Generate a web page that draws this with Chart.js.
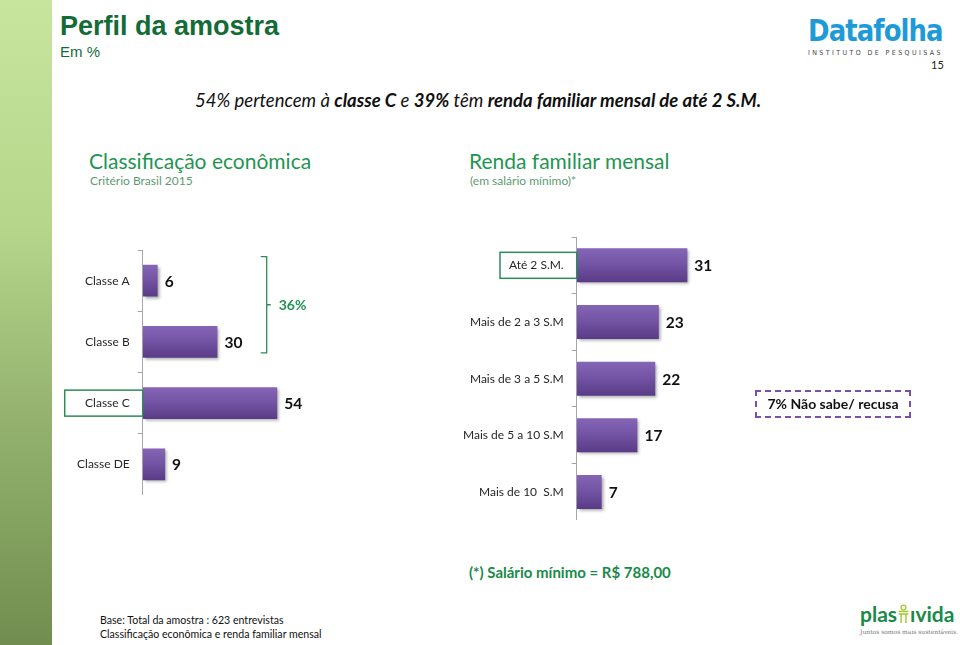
<!DOCTYPE html>
<html>
<head>
<meta charset="utf-8">
<script src="https://cdn.jsdelivr.net/npm/chart.js@4.4.1/dist/chart.umd.min.js"></script>
<style>
body { margin: 0; width: 960px; height: 645px; position: relative; overflow: hidden; background: #fff; font-family: Lato, sans-serif; }
.abs { position: absolute; white-space: nowrap; line-height: 1; }
#strip { left: 0; top: 0; width: 52px; height: 645px; background: linear-gradient(#c8e59e, #b5d68b 35%, #94b26e 65%, #718e50); }
#title { left: 60px; top: 11px; font: bold 27px "Liberation Sans", Arial, sans-serif; color: #136b36; }
#emp { left: 60px; top: 43px; font: 15px "Liberation Sans", Arial, sans-serif; color: #136b36; }
#logo { left: 808px; top: 12px; color: #1e9bd7; }
#logo .big { font: bold 31px "DejaVu Sans Condensed", "DejaVu Sans", sans-serif; letter-spacing: -1px; display: inline-block; transform-origin: left top; }
#logo .small { font: 7px "DejaVu Sans Condensed", sans-serif; letter-spacing: 2.4px; color: #444; margin-top: 1px; }
#page { left: 931px; top: 59px; font-size: 11px; color: #222; }
#sub { left: 195px; top: 91px; font-size: 18.5px; font-style: italic; color: #111; }
.head { font-size: 21px; color: #1f9650; }
.head2 { font-size: 12px; color: #5f9a72; }
#foot { left: 469px; top: 565px; font-size: 15px; font-weight: bold; color: #1a8a48; }
#base { left: 100px; top: 613px; font-size: 10.6px; color: #111; line-height: 14px; }
#plas { left: 860px; top: 601px; color: #1a8a48; font: bold 21px Lato, sans-serif; }
#plas .tag { font: 6px "DejaVu Serif", serif; color: #777; margin-top: 2px; }
#econWrap { left: 40px; top: 250px; width: 340px; height: 245px; }
#rendaWrap { left: 440px; top: 236.7px; width: 320px; height: 283.3px; }
</style>
</head>
<body>
<div id="strip" class="abs"></div>
<div id="title" class="abs">Perfil da amostra</div>
<div id="emp" class="abs">Em %</div>
<div id="logo" class="abs"><span class="big" id="logoBig">Datafolha</span><div class="small">INSTITUTO DE PESQUISAS</div></div>
<div id="page" class="abs">15</div>
<div id="sub" class="abs">54% pertencem à <b>classe C</b> e <b>39%</b> têm <b>renda familiar mensal de até 2 S.M.</b></div>

<div class="abs head" style="left:89px;top:150px">Classificação econômica</div>
<div class="abs head2" style="left:90px;top:175px">Critério Brasil 2015</div>
<div class="abs head" style="left:469px;top:150px">Renda familiar mensal</div>
<div class="abs head2" style="left:470px;top:175px">(em salário mínimo)*</div>

<div id="econWrap" class="abs"><canvas id="econChart"></canvas></div>
<div id="rendaWrap" class="abs"><canvas id="rendaChart"></canvas></div>

<div class="abs" style="left:755px;top:390px;width:152px;height:24px;border:2px dashed #7a4fa8;font-size:14px;font-weight:bold;color:#111;line-height:24px;text-align:center">7% Não sabe/ recusa</div>

<div id="foot" class="abs">(*) Salário mínimo = R$ 788,00</div>
<div id="base" class="abs">Base: Total da amostra : 623 entrevistas<br>Classificação econômica e renda familiar mensal</div>
<div id="plas" class="abs">plas<svg width="13" height="22" viewBox="0 0 16 24" style="vertical-align:-3px"><circle cx="8" cy="4" r="3" fill="none" stroke="#a5c83a" stroke-width="1.6"/><path d="M2 9h12M2 12h12M5 12v11M11 12v11" stroke="#a5c83a" stroke-width="1.8" fill="none"/></svg>ıvida<div class="tag">Juntos somos mais sustentáveis.</div></div>

<script>
const econLabels = ['Classe A', 'Classe B', 'Classe C', 'Classe DE'];
const econValues = [6, 30, 54, 9];
const rendaLabels = ['Até 2 S.M.', 'Mais de 2 a 3 S.M', 'Mais de 3 a 5 S.M', 'Mais de 5 a 10 S.M', 'Mais de 10  S.M'];
const rendaValues = [31, 23, 22, 17, 7];

// fit the logo word to its box
const lb = document.getElementById('logoBig');
lb.style.transform = 'scaleX(' + (135 / lb.offsetWidth) + ')';

// shadow + vertical gradient on each bar
const barLookPlugin = {
    id: 'barLook',
    beforeDatasetsDraw(chart) {
        const c = chart.ctx;
        chart.getDatasetMeta(0).data.forEach(bar => {
            const half = bar.height / 2;
            const g = c.createLinearGradient(0, bar.y - half, 0, bar.y + half);
            g.addColorStop(0, '#8566b6');
            g.addColorStop(0.5, '#7252a2');
            g.addColorStop(1, '#583b86');
            bar.options.backgroundColor = g;
        });
        c.save();
        c.shadowColor = 'rgba(0,0,0,0.35)';
        c.shadowOffsetX = 2;
        c.shadowOffsetY = 2;
        c.shadowBlur = 3;
    },
    afterDatasetsDraw(chart) {
        chart.ctx.restore();
    }
};

// value at the end of each bar
const valuePlugin = {
    id: 'values',
    afterDatasetsDraw(chart) {
        const c = chart.ctx;
        const meta = chart.getDatasetMeta(0);
        c.save();
        c.font = 'bold 15.5px Lato';
        c.fillStyle = '#111';
        c.textBaseline = 'middle';
        meta.data.forEach((bar, i) => {
            c.fillText(chart.data.datasets[0].data[i], bar.x + 7, bar.y + 1);
        });
        c.restore();
    }
};

// green box around one category label
function boxPlugin(index, left) {
    return {
        id: 'box',
        afterDraw(chart) {
            const c = chart.ctx;
            const y = chart.scales.y.getPixelForValue(index);
            const x1 = chart.chartArea.left;
            c.save();
            c.strokeStyle = '#2e8b57';
            c.lineWidth = 1.5;
            c.strokeRect(left, y - 13, x1 - left, 26);
            c.restore();
        }
    };
}

// bracket over A + B with the sum
const bracketPlugin = {
    id: 'bracket',
    afterDraw(chart) {
        const c = chart.ctx;
        const ys = chart.scales.y;
        const top = ys.getPixelForValue(0) - 24;
        const bot = ys.getPixelForValue(1) + 11;
        const x = chart.chartArea.left + 124;
        const mid = (top + bot) / 2;
        c.save();
        c.strokeStyle = '#2e8b57';
        c.lineWidth = 1.3;
        c.beginPath();
        c.moveTo(x - 6, top); c.lineTo(x, top); c.lineTo(x, bot); c.lineTo(x - 6, bot);
        c.moveTo(x, mid); c.lineTo(x + 4, mid);
        c.stroke();
        c.font = 'bold 14px Lato';
        c.fillStyle = '#1f9650';
        c.textBaseline = 'middle';
        c.fillText(econValues[0] + econValues[1] + '%', x + 12, mid + 1);
        c.restore();
    }
};

function makeChart(id, labels, values, max, yWidth, pct, padRight, plugins) {
    return new Chart(document.getElementById(id), {
        type: 'bar',
        data: {
            labels: labels,
            datasets: [{
                data: values,
                backgroundColor: () => '#7252a2', // scriptable so each bar keeps its own options
                borderWidth: 0,
                barPercentage: pct,
                categoryPercentage: 1
            }]
        },
        options: {
            indexAxis: 'y',
            responsive: true,
            maintainAspectRatio: false,
            animation: false,
            layout: { padding: { top: 0, bottom: 0, left: 0, right: padRight } },
            plugins: { legend: { display: false }, tooltip: { enabled: false } },
            scales: {
                x: { display: false, min: 0, max: max },
                y: {
                    afterFit(scale) {
                        scale.width = yWidth;
                        scale.paddingTop = 0;
                        scale.paddingBottom = 0;
                    },
                    border: { display: true, color: '#a6a6a6', width: 1 },
                    grid: { drawOnChartArea: false, drawTicks: true, tickLength: 5, color: '#a6a6a6' },
                    ticks: { padding: 8, color: '#262626', font: { family: 'Lato', size: 12 } }
                }
            }
        },
        plugins: [barLookPlugin, valuePlugin].concat(plugins)
    });
}

makeChart('econChart', econLabels, econValues, 80, 102.7, 0.52, 38, [boxPlugin(2, 24.7), bracketPlugin]);
makeChart('rendaChart', rendaLabels, rendaValues, 40, 136.7, 0.6, 40.5, [boxPlugin(0, 60)]);
</script>
</body>
</html>
